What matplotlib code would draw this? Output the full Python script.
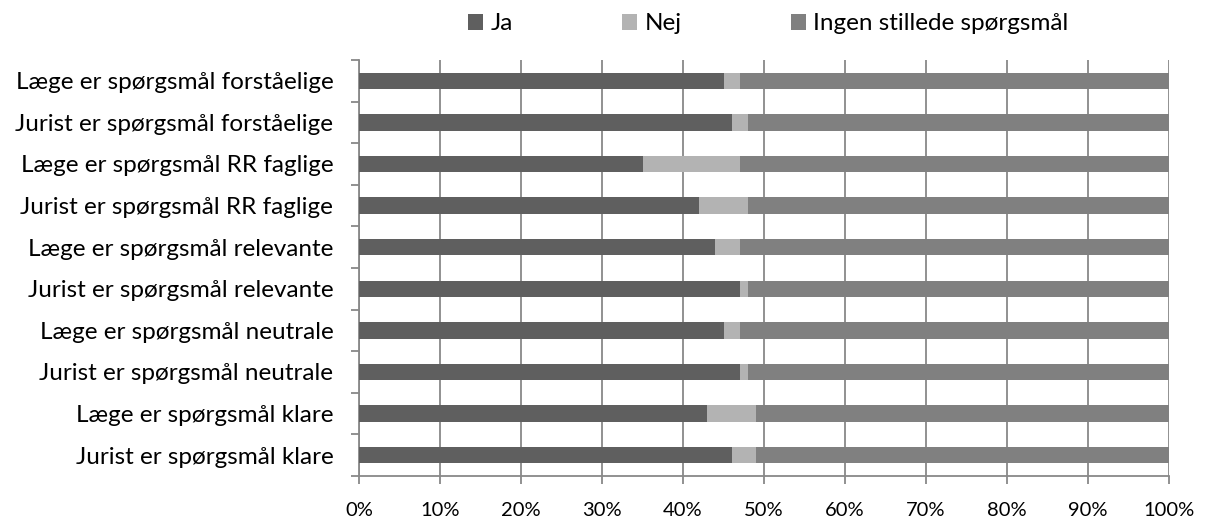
import matplotlib
matplotlib.use("Agg")
import matplotlib.pyplot as plt
import numpy as np

plt.rcParams['font.family'] = ['Lato', 'DejaVu Sans']

# kategorier, nederste først
kategorier = [
    "Jurist er spørgsmål klare",
    "Læge er spørgsmål klare",
    "Jurist er spørgsmål neutrale",
    "Læge er spørgsmål neutrale",
    "Jurist er spørgsmål relevante",
    "Læge er spørgsmål relevante",
    "Jurist er spørgsmål RR faglige",
    "Læge er spørgsmål RR faglige",
    "Jurist er spørgsmål forståelige",
    "Læge er spørgsmål forståelige",
]
ja = [46, 43, 47, 45, 47, 44, 42, 35, 46, 45]
nej = [3, 6, 1, 2, 1, 3, 6, 12, 2, 2]
ingen = [51, 51, 52, 53, 52, 53, 52, 53, 52, 53]
serier = ["Ja", "Nej", "Ingen stillede spørgsmål"]
farver = ["#5f5f5f", "#b3b3b3", "#808080"]
akse_farve = "#888888"

fig = plt.figure(figsize=(12.08, 5.24), dpi=100)
ax = fig.add_axes([359/1208, 1 - 476/524, 810/1208, 416/524])

y = np.arange(len(kategorier))
venstre = np.zeros(len(kategorier))
for navn, vaerdier, farve in zip(serier, [ja, nej, ingen], farver):
    ax.barh(y, vaerdier, left=venstre, height=0.39, color=farve, label=navn, zorder=3)
    venstre += np.array(vaerdier)

ax.set_xlim(0, 100)
ax.set_ylim(-0.5, len(kategorier) - 0.5)
ax.set_xticks(np.arange(0, 101, 10))
ax.set_xticklabels([f"{v}%" for v in range(0, 101, 10)], fontsize=14.5)
ax.set_yticks(y)
ax.set_yticklabels(kategorier, fontsize=17.5)
ax.tick_params(axis='y', length=0, pad=18.5)
ax.tick_params(axis='x', length=6, width=1.3, color=akse_farve, pad=13)
# små streger mellem kategorierne
ax.set_yticks(np.arange(-0.5, len(kategorier), 1), minor=True)
ax.tick_params(axis='y', which='minor', length=6, width=1.3, color=akse_farve)

ax.grid(axis='x', color=akse_farve, lw=1.3, zorder=0)
for s in ['top', 'right']:
    ax.spines[s].set_visible(False)
for s in ['left', 'bottom']:
    ax.spines[s].set_color(akse_farve)
    ax.spines[s].set_linewidth(1.3)

ax.legend(loc='center left', bbox_to_anchor=(468/1208, 1 - 24/524),
          bbox_transform=fig.transFigure, ncol=3, frameon=False,
          fontsize=17.5, handlelength=0.62, handleheight=0.62, handletextpad=0.3,
          columnspacing=4.5, borderpad=0, borderaxespad=0)

fig.savefig("out.png", dpi=100)
